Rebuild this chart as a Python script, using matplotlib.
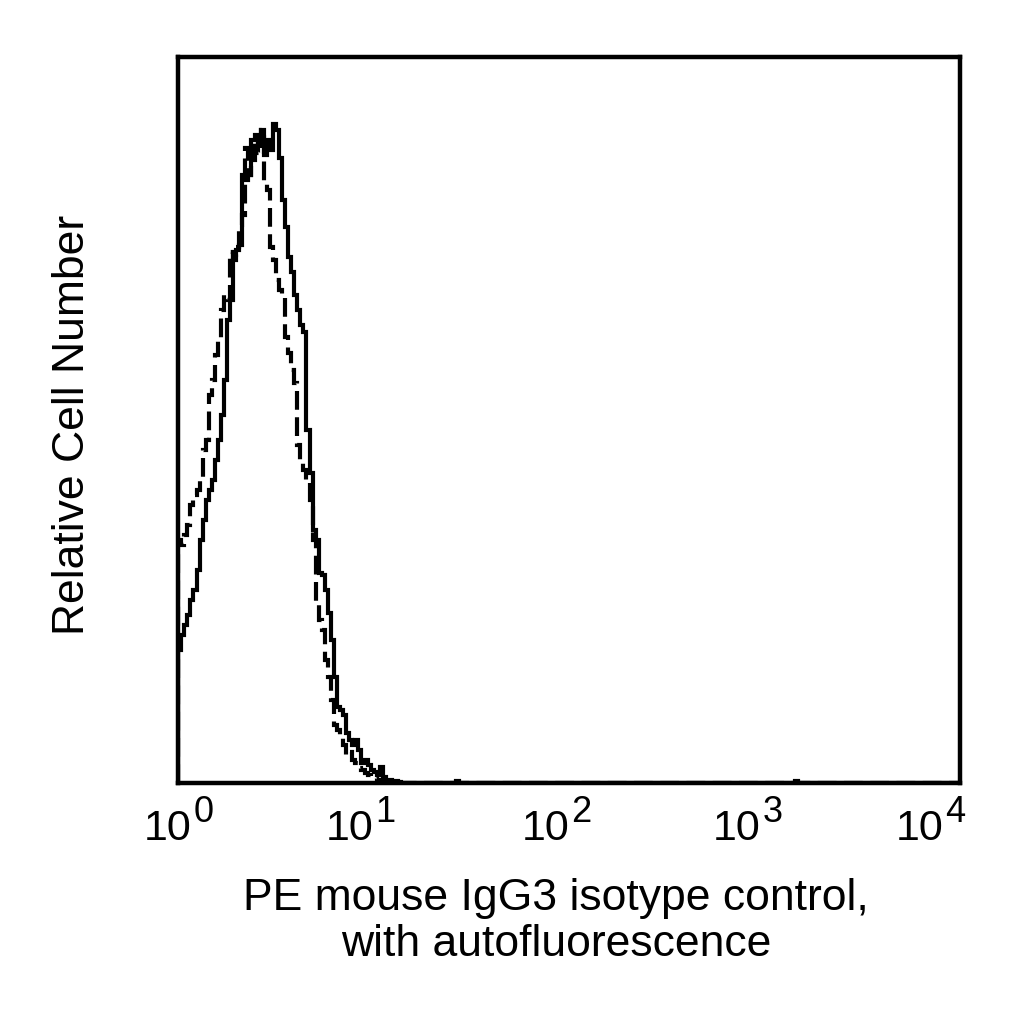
import numpy as np
import matplotlib.pyplot as plt
import matplotlib.transforms as mtransforms

plt.rcParams['font.family'] = ['Liberation Sans', 'DejaVu Sans']

# 256 log channels over 4 decades, counts (channels 0..72)
solid_counts = [133, 148, 158, 168, 183, 193, 213, 243, 263, 283, 293, 303, 323, 343, 368,
                403, 463, 483, 528, 533, 538, 608, 603, 608, 643, 648, 638, 653, 628, 643,
                633, 659, 653, 625, 583, 556, 526, 511, 488, 473, 458, 451, 353, 310, 253,
                243, 210, 208, 193, 170, 143, 106, 76, 73, 68, 50, 43, 38, 43, 33,
                20, 23, 18, 13, 11, 8, 16, 6, 3, 3, 2, 2, 1]
dashed_counts = [243, 238, 248, 258, 278, 288, 293, 303, 333, 343, 388, 403, 428, 443, 473,
                 488, 483, 531, 523, 536, 558, 568, 635, 608, 623, 646, 630, 653, 600, 593,
                 536, 523, 503, 493, 486, 446, 430, 413, 400, 338, 323, 313, 303, 283, 243,
                 178, 163, 153, 123, 106, 83, 58, 53, 46, 38, 28, 31, 23, 20, 15,
                 13, 10, 8, 6, 5, 3, 2, 1]
# single stray events further out
solid_blips = {91: 2, 202: 2}

tick_vals = [1, 10, 100, 1000, 10000]
tick_exps = ['0', '1', '2', '3', '4']

n_chan = 256
edges = 10 ** (np.arange(n_chan + 1) / 64)

solid = np.zeros(n_chan)
solid[:len(solid_counts)] = solid_counts
for ch, v in solid_blips.items():
    solid[ch] = v
dashed = np.zeros(n_chan)
dashed[:len(dashed_counts)] = dashed_counts

fig = plt.figure(figsize=(10.24, 10.24), dpi=100)
ax = fig.add_axes([0.174, 0.2354, 0.7637, 0.709])

ax.stairs(solid, edges, color='black', linewidth=3.0)
ax.stairs(dashed, edges, color='black', linewidth=3.0, linestyle=(0, (4.5, 1.8)))

ax.set_xscale('log')
ax.set_xlim(1, 1e4)
ax.set_ylim(0, 726)
ax.set_xticks([])
ax.minorticks_off()
ax.set_yticks([])
for s in ax.spines.values():
    s.set_linewidth(3.2)

# tick labels as "10" plus a big raised exponent
trans = mtransforms.blended_transform_factory(ax.transData, fig.transFigure)
shift_px = [13, 0, 0, -4, -17]
for v, e, dx in zip(tick_vals, tick_exps, shift_px):
    off = mtransforms.offset_copy(trans, fig=fig, x=dx, y=0, units='dots')
    ax.text(v, 1 - 840 / 1024, '10', transform=off, ha='right', va='baseline',
            fontsize=31)
    off2 = mtransforms.offset_copy(trans, fig=fig, x=dx + 2, y=0, units='dots')
    ax.text(v, 1 - 822 / 1024, e, transform=off2, ha='left', va='baseline',
            fontsize=26)

fig.text(73 / 1024, 1 - 425 / 1024, 'Relative Cell Number', rotation=90,
         ha='center', va='center', fontsize=32)
fig.text(556 / 1024, 1 - 878 / 1024, 'PE mouse IgG3 isotype control,\nwith autofluorescence',
         ha='center', va='top', fontsize=32, linespacing=1.15)

fig.savefig('out.png', dpi=100, facecolor='white')
